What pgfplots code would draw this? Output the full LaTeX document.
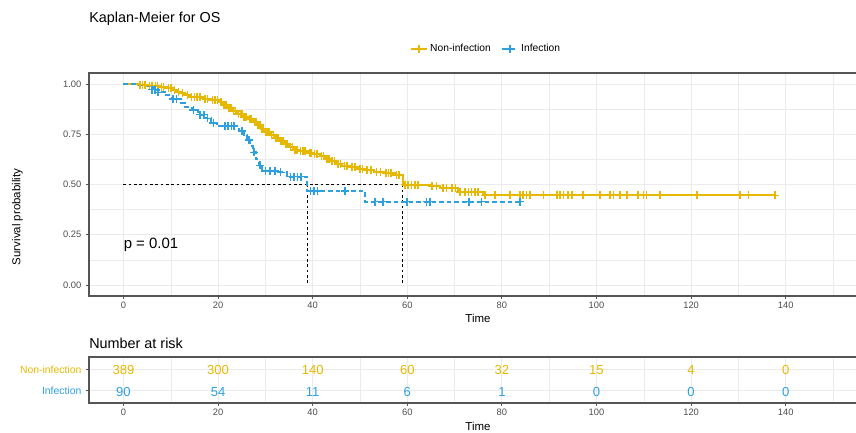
\documentclass[border=0pt]{standalone}
\usepackage{pgfplots}
\pgfplotsset{compat=1.18}
\usepackage{fontspec}
\setmainfont{Liberation Sans}
\definecolor{yellowc}{HTML}{E7B800}
\definecolor{bluec}{HTML}{2E9FDF}
\definecolor{gridc}{HTML}{EBEBEB}
\definecolor{tickc}{HTML}{4D4D4D}
\definecolor{framec}{HTML}{555555}
\pgfplotsset{
  kmbase/.style={
    scale only axis,
    width=583.5pt,
    xmin=-7.29, xmax=157.19,
    xtick={0,20,...,140},
    minor xtick={10,30,...,150},
    grid=both,
    major grid style={color=gridc, line width=0.6pt},
    minor grid style={color=gridc, line width=0.35pt},
    tick pos=left,
    tick align=outside,
    major tick length=2.2pt,
    minor tick length=0pt,
    tick style={color=framec, line width=0.6pt},
    axis line style={color=framec, line width=0.9pt},
    tick label style={font=\fontsize{7}{8}\selectfont, text=tickc},
    /pgf/number format/assume math mode=true,
    xticklabel style={yshift=1pt},
  },
  curve/.style={line width=1.5pt, const plot, mark=none, forget plot},
  cens/.style={forget plot, only marks, mark=+, mark size=3pt, mark options={solid, line width=1.2pt}},
}
\begin{document}
\begin{tikzpicture}
\useasboundingbox (0,0) rectangle (642pt,324pt);
% Title
\node[anchor=west, inner sep=0, font=\fontsize{10.8}{12}\selectfont] at (66.75pt,310pt) {Kaplan-Meier for OS};
% y label
\node[rotate=90, inner sep=0, font=\fontsize{8.6}{10}\selectfont] at (13pt,161.25pt) {Survival probability};
% x labels
\node[inner sep=0, font=\fontsize{8.6}{10}\selectfont] at (358.5pt,85.5pt) {Time};
\node[inner sep=0, font=\fontsize{8.6}{10}\selectfont] at (358.5pt,4.2pt) {Time};
% Number at risk title
\node[anchor=west, inner sep=0, font=\fontsize{10.8}{12}\selectfont] at (66.75pt,66.75pt) {Number at risk};

\begin{axis}[kmbase,
  at={(66.75pt,102pt)}, anchor=south west,
  height=167.25pt,
  ymin=-0.055, ymax=1.055,
  ytick={0,0.25,0.5,0.75,1},
  minor ytick={0.125,0.375,0.625,0.875},
  yticklabel style={/pgf/number format/fixed, /pgf/number format/fixed zerofill, /pgf/number format/precision=2},
  legend style={at={(0.511,1.108)}, anchor=center, draw=none, fill=none,
    font=\fontsize{7.7}{8}\selectfont, legend columns=2,
    /tikz/every even column/.append style={column sep=6pt}},
  legend image code/.code={\draw[mark repeat=2,mark phase=2,#1] plot coordinates {(0cm,0cm) (0.2cm,0cm) (0.4cm,0cm)};},
]
\addlegendimage{yellowc, line width=1.5pt, mark=+, mark size=3pt, mark options={solid, line width=1.2pt}}
\addlegendentry{Non-infection}
\addlegendimage{bluec, line width=1.5pt, dash pattern=on 3.5pt off 2.2pt, mark=+, mark size=3pt, mark options={solid, line width=1.2pt}}
\addlegendentry{Infection}

% median lines
\addplot[forget plot, black, line width=0.6pt, dash pattern=on 2pt off 2pt] coordinates {(0,0.5) (59.0,0.5)};
\addplot[forget plot, black, line width=0.6pt, dash pattern=on 2pt off 2pt] coordinates {(38.9,0.5) (38.9,0)};
\addplot[forget plot, black, line width=0.6pt, dash pattern=on 2pt off 2pt] coordinates {(59.0,0.5) (59.0,0)};

% Non-infection curve
\addplot[curve, yellowc] coordinates {
(0,1.000) (3.0,0.997) (5.0,0.992) (7.5,0.986) (9.0,0.978) (10.5,0.970) (11.2,0.962)
(12.0,0.953) (13.0,0.944) (14.0,0.936) (16.8,0.928) (18.5,0.920) (20.2,0.910) (21.0,0.898)
(22.0,0.882) (23.0,0.866) (24.0,0.852) (25.2,0.838) (26.3,0.824) (27.4,0.810) (28.2,0.795)
(29.0,0.778) (29.8,0.762) (31.0,0.748) (32.0,0.732) (33.0,0.715) (34.0,0.700) (35.0,0.686)
(36.0,0.672) (37.0,0.665) (39.0,0.658) (40.0,0.650) (41.5,0.640) (42.6,0.628) (43.7,0.618)
(45.0,0.604) (46.3,0.594) (47.8,0.585) (49.5,0.577) (51.0,0.570) (53.0,0.563) (55.0,0.556)
(57.3,0.546) (59.0,0.499) (64.8,0.492) (66.9,0.481) (70.7,0.462) (76.0,0.446) (137.7,0.446)
};
% Infection curve
\addplot[curve, bluec, dash pattern=on 3.5pt off 2.2pt] coordinates {
(0,1.000) (2.6,0.995) (5.2,0.985) (6.3,0.972) (7.5,0.958) (8.8,0.943) (10.2,0.925)
(12.2,0.905) (13.0,0.888) (14.4,0.871) (15.8,0.848) (17.2,0.829) (18.6,0.806) (19.7,0.790)
(24.4,0.765) (25.5,0.745) (26.2,0.720) (26.8,0.690) (27.4,0.660) (28.0,0.625) (28.6,0.595)
(29.2,0.568) (32.8,0.560) (34.5,0.539) (38.9,0.468) (51.0,0.415) (83.8,0.415)
};
% Non-infection censor marks
\addplot[cens, yellowc] coordinates {
(3.5,0.997) (4.0,0.997) (4.5,0.997)
(5.5,0.992) (6.0,0.992) (6.8,0.992) (7.2,0.992)
(8.0,0.986) (8.5,0.986) (9.5,0.978) (10.0,0.978) (10.8,0.970) (11.6,0.962)
(12.5,0.953) (13.5,0.944) (14.4,0.936) (15.0,0.936) (15.6,0.936) (16.2,0.936)
(17.2,0.928) (17.8,0.928) (18.8,0.920) (19.4,0.920) (19.9,0.920) (20.6,0.910)
(21.3,0.898) (21.7,0.898) (22.3,0.882) (22.7,0.882) (23.3,0.866) (23.7,0.866)
(24.3,0.852) (24.7,0.852) (25.0,0.852) (25.5,0.838) (25.9,0.838) (26.6,0.824) (27.0,0.824)
(27.7,0.810) (28.0,0.810) (28.5,0.795) (28.8,0.795) (29.3,0.778) (29.6,0.778)
(30.1,0.762) (30.5,0.762) (30.8,0.762) (31.3,0.748) (31.7,0.748) (32.3,0.732) (32.7,0.732)
(33.3,0.715) (33.7,0.715) (34.3,0.700) (34.7,0.700) (35.3,0.686) (35.7,0.686)
(36.3,0.672) (36.7,0.672) (37.4,0.665) (37.9,0.665) (38.4,0.665) (39.3,0.658) (39.7,0.658)
(40.4,0.650) (40.9,0.650) (41.9,0.640) (42.3,0.640) (43.0,0.628) (43.4,0.628)
(44.1,0.618) (44.6,0.618) (45.4,0.604) (45.9,0.604) (46.7,0.594) (47.3,0.594)
(48.3,0.585) (48.9,0.585) (50.0,0.577) (50.5,0.577) (51.5,0.570) (52.3,0.570)
(53.5,0.563) (54.3,0.563) (55.5,0.556) (56.0,0.556) (56.6,0.556) (57.7,0.546) (58.2,0.546)
(59.5,0.499) (60.2,0.499) (60.9,0.499) (61.6,0.499) (62.3,0.499)
(65.2,0.492) (66.2,0.492) (67.6,0.481) (68.3,0.481) (69.4,0.481) (70.2,0.481)
(71.1,0.462) (72.2,0.462) (72.9,0.462) (73.6,0.462) (74.3,0.462) (75.0,0.462)
(76.4,0.446) (78.5,0.446) (81.7,0.446) (83.8,0.446) (84.5,0.446) (85.2,0.446) (85.9,0.446)
(88.8,0.446) (91.6,0.446) (92.3,0.446) (93.0,0.446) (94.0,0.446) (94.8,0.446) (97.2,0.446)
(100.7,0.446) (102.9,0.446) (103.6,0.446) (105.0,0.446) (106.4,0.446) (108.8,0.446)
(109.9,0.446) (110.6,0.446) (113.4,0.446) (121.2,0.446) (130.3,0.446) (132.1,0.446) (137.7,0.446)
};
% Infection censor marks
\addplot[cens, bluec] coordinates {
(6.0,0.972) (6.7,0.972) (7.3,0.958) (10.5,0.925) (11.2,0.925) (14.8,0.871) (16.2,0.848)
(17.0,0.848) (17.8,0.829) (19.0,0.806) (21.5,0.790) (22.1,0.790) (22.8,0.790) (23.4,0.790)
(25.0,0.765) (26.5,0.720) (27.6,0.660) (28.8,0.595) (30.0,0.568) (31.0,0.568) (32.0,0.568)
(33.2,0.560) (35.3,0.539) (36.0,0.539) (36.8,0.539) (37.5,0.539) (39.5,0.468) (40.3,0.468)
(41.0,0.468) (46.8,0.468) (53.2,0.415) (54.9,0.415) (60.0,0.415) (64.1,0.415) (64.8,0.415)
(73.1,0.415) (75.7,0.415) (83.8,0.415)
};
\node[anchor=west, inner sep=0, font=\fontsize{11.2}{12}\selectfont] at (axis cs:0,0.2) {p = 0.01};
\end{axis}

\begin{axis}[kmbase,
  at={(66.75pt,21.75pt)}, anchor=south west,
  height=34.5pt,
  ymin=0.4, ymax=2.6,
  ytick={1,2},
  minor ytick={},
  yticklabel style={font=\fontsize{7.8}{8}\selectfont},
  yticklabels={\textcolor{bluec}{Infection}, \textcolor{yellowc}{Non-infection}},
]
\addplot[draw=none, mark=none, point meta=explicit symbolic, nodes near coords,
  every node near coord/.append style={font=\fontsize{9.8}{10}\selectfont, text=yellowc, anchor=center, yshift=-0.5pt}]
  coordinates {(0,2)[389] (20,2)[300] (40,2)[140] (60,2)[60] (80,2)[32] (100,2)[15] (120,2)[4] (140,2)[0]};
\addplot[draw=none, mark=none, point meta=explicit symbolic, nodes near coords,
  every node near coord/.append style={font=\fontsize{9.8}{10}\selectfont, text=bluec, anchor=center, yshift=-1pt}]
  coordinates {(0,1)[90] (20,1)[54] (40,1)[11] (60,1)[6] (80,1)[1] (100,1)[0] (120,1)[0] (140,1)[0]};
\end{axis}
\end{tikzpicture}
\end{document}
